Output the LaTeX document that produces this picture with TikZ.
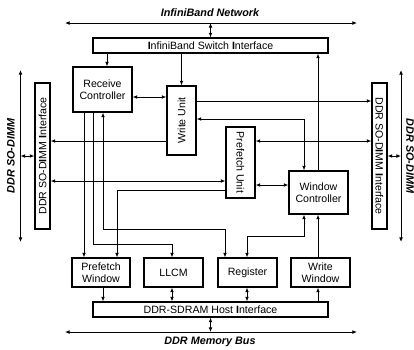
\documentclass[tikz,border=0pt]{standalone}
\usepackage{fontspec}
\setmainfont{Liberation Sans}
\usetikzlibrary{arrows.meta,calc}

\tikzset{
  blk/.style={draw, line width=1.1pt, inner sep=0pt, align=center,
    font=\fontsize{10.6}{12.5}\selectfont},
  conn/.style={line width=1pt},
  lbl/.style={font=\fontsize{10.8}{13}\selectfont\bfseries\itshape, inner sep=0pt},
  >={Latex[length=4.6pt,width=3.8pt]}
}
\newcommand{\bI}{\textbf{I}}

\begin{document}
\begin{tikzpicture}[x=1pt,y=-1pt]
\useasboundingbox (0,0) rectangle (414,349);

% column and row reference points
\coordinate (c84) at (84,0);
\coordinate (c93) at (93,0);
\coordinate (c103) at (103,0);
\coordinate (c107) at (107,0);
\coordinate (c117) at (117,0);
\coordinate (c172) at (172,0);
\coordinate (c225) at (225,0);
\coordinate (c247) at (247,0);
\coordinate (c304) at (304,0);
\coordinate (c318) at (318,0);
\coordinate (r97) at (0,97);
\coordinate (r101) at (0,101);
\coordinate (r119) at (0,119);
\coordinate (r141) at (0,141);
\coordinate (r181) at (0,181);
\coordinate (r185) at (0,185);
\coordinate (r190) at (0,190);
\coordinate (r229) at (0,229);
\coordinate (r236) at (0,236);
\coordinate (r244) at (0,244);

% bus end points
\coordinate (topL) at (65,23);
\coordinate (topR) at (357,23);
\coordinate (botL) at (65,332);
\coordinate (botR) at (357,332);
\coordinate (lbT) at (20.5,70);
\coordinate (lbB) at (20.5,242);
\coordinate (rbT) at (401,70);
\coordinate (rbB) at (401,242);

% bus labels
\node[lbl] (netlbl) at (210,13) {InfiniBand Network};
\node[lbl] (buslbl) at (210,341.5) {DDR Memory Bus};
\node[lbl, rotate=90] (ldlbl) at (11,156) {DDR SO-DIMM};
\node[lbl, rotate=-90] (rdlbl) at (410,156) {DDR SO-DIMM};

% blocks
\node[blk, minimum width=235pt, minimum height=15pt] (sw) at (210.5,45.5)
  {\bI nfiniBand Switch \bI nterface};
\node[blk, minimum width=235pt, minimum height=15pt] (host) at (210.5,309.5)
  {DDR-SDRAM Host \bI nterface};
\node[blk, minimum width=59pt, minimum height=45pt] (rc) at (102.5,89.5)
  {Receive\\Controller};
\node[blk, rotate=90, minimum width=69pt, minimum height=29pt] (wu) at (181.5,120.5)
  {Write Unit};
\node[blk, rotate=-90, minimum width=71pt, minimum height=29pt] (pu) at (240.5,162.5)
  {Prefetch Unit};
\node[blk, minimum width=59pt, minimum height=43pt] (wc) at (318.5,192.5)
  {Window\\Controller};
\node[blk, rotate=90, minimum width=146pt, minimum height=15pt] (ldimm) at (42.5,156)
  {DDR SO-D\bI MM \bI nterface};
\node[blk, rotate=-90, minimum width=146pt, minimum height=15pt] (rdimm) at (379.5,156)
  {DDR SO-D\bI MM \bI nterface};
\node[blk, minimum width=58pt, minimum height=29pt] (pw) at (101,272.5)
  {Prefetch\\Window};
\node[blk, minimum width=59pt, minimum height=29pt] (llcm) at (173.5,272.5) {LLCM};
\node[blk, minimum width=59pt, minimum height=29pt] (reg) at (247.5,272.5) {Register};
\node[blk, minimum width=59pt, minimum height=29pt] (ww) at (320.5,272.5)
  {Write\\Window};

% buses
\draw[conn,<->] (topL) -- (topR);
\draw[conn,<->] (botL) -- (botR);
\draw[conn,<->] (lbT) -- (lbB);
\draw[conn,<->] (rbT) -- (rbB);

% bus attachments
\draw[conn,<->] (sw.north |- topL) -- (sw.north);
\draw[conn,<->] (host.south) -- (host.south |- botL);
\draw[conn,<->] (ldimm.north) -- (ldimm.north -| lbT);
\draw[conn,<->] (rdimm.north) -- (rdimm.north -| rbT);

% switch interface links
\draw[conn,->] (sw.south -| c107) -- (rc.north -| c107);
\draw[conn,->] (sw.south -| wu.east) -- (wu.east);
\draw[conn,->] (wc.north -| c318) -- (sw.south -| c318);

% write unit links
\draw[conn,<->] (rc.east |- r97) -- (wu.north |- r97);
\draw[conn,->] (wu.south |- r101) -- (rdimm.south |- r101);
\draw[conn,<->] (wc.north -| c304) |- (wu.south |- r119);
\draw[conn,->] (wu.north |- r141) -- (ldimm.south |- r141);

% prefetch unit links
\draw[conn,<->] (pu.north |- r141) -- (rdimm.south |- r141);
\draw[conn,<->] (ldimm.south |- r181) -- (pu.south |- r181);
\draw[conn,<->] (pu.north |- r185) -- (wc.west |- r185);
\draw[conn,->] (pu.south |- r190) -| (pw.north -| c117);

% receive controller links
\draw[conn,->] (rc.south -| c84) -- (pw.north -| c84);
\draw[conn,->] (rc.south -| c93) -- (c93 |- r244) -| (llcm.north -| c172);
\draw[conn,<->] (rc.south -| c103) -- (c103 |- r229) -| (reg.north -| c225);

% window controller links
\draw[conn,<->] (wc.south -| c304) -- (c304 |- r236) -| (reg.north -| c247);
\draw[conn,->] (ww.north -| c318) -- (wc.south -| c318);

% host interface links
\draw[conn,->] (pw.south -| c103) -- (host.north -| c103);
\draw[conn,<->] (llcm.south -| c172) -- (host.north -| c172);
\draw[conn,<->] (reg.south -| c247) -- (host.north -| c247);
\draw[conn,->] (host.north -| c318) -- (ww.south -| c318);

\end{tikzpicture}
\end{document}
